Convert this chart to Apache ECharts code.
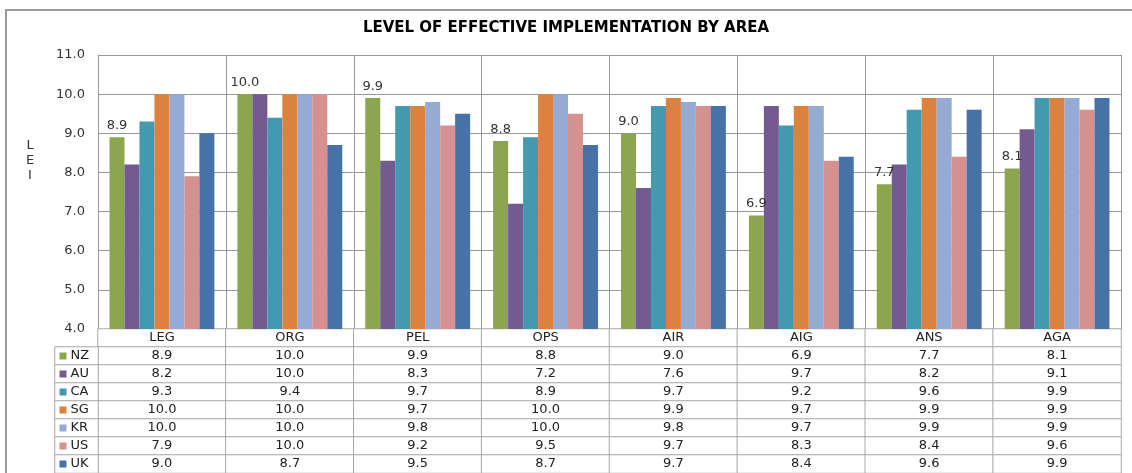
<!DOCTYPE html>
<html>
<head>
<meta charset="utf-8">
<script src="https://cdn.jsdelivr.net/npm/echarts@6/dist/echarts.min.js"></script>
<style>
html,body{margin:0;padding:0;background:#fff;}
#chart{width:1132px;height:473px;}
</style>
</head>
<body>
<div id="chart"></div>
<script>
const categories = ['LEG','ORG','PEL','OPS','AIR','AIG','ANS','AGA'];
const countries = ['NZ','AU','CA','SG','KR','US','UK'];
const nz = [8.9, 10.0, 9.9, 8.8, 9.0, 6.9, 7.7, 8.1];
const au = [8.2, 10.0, 8.3, 7.2, 7.6, 9.7, 8.2, 9.1];
const ca = [9.3, 9.4, 9.7, 8.9, 9.7, 9.2, 9.6, 9.9];
const sg = [10.0, 10.0, 9.7, 10.0, 9.9, 9.7, 9.9, 9.9];
const kr = [10.0, 10.0, 9.8, 10.0, 9.8, 9.7, 9.9, 9.9];
const us = [7.9, 10.0, 9.2, 9.5, 9.7, 8.3, 8.4, 9.6];
const uk = [9.0, 8.7, 9.5, 8.7, 9.7, 8.4, 9.6, 9.9];
const seriesValues = [nz, au, ca, sg, kr, us, uk];
const colors = ['#8BA64E','#735A91','#4299B0','#DC823F','#95ABD3','#D49190','#4672A8'];
const yMin = 4, yMax = 11, yInterval = 1;
const titleText = 'LEVEL OF EFFECTIVE IMPLEMENTATION BY AREA';
const yName = 'L\nE\nI';

const FONT = 'DejaVu Sans';
const FS = 13;
const chart = echarts.init(document.getElementById('chart'), null, {renderer: 'canvas'});

const barSeries = countries.map((c, i) => ({
  name: c,
  type: 'bar',
  xAxisIndex: 0, yAxisIndex: 0,
  data: seriesValues[i],
  barGap: '0%',
  barCategoryGap: '18%',
  itemStyle: {color: colors[i]},
  emphasis: {disabled: true},
  label: i === 0 ? {
    show: true, position: 'top', distance: 5,
    color: '#333', fontFamily: FONT, fontSize: FS,
    formatter: p => p.value.toFixed(1)
  } : {show: false}
}));

const tableData = [];
categories.forEach((cat, ci) => {
  tableData.push([ci, 0, 0]);
  seriesValues.forEach((arr, si) => tableData.push([ci, si + 1, arr[ci]]));
});
const legendCells = countries.map((c, i) => [0, i, 0]);

const rich = {t: {fontFamily: FONT, fontSize: FS, color: '#222', padding: [0,0,0,4]}};
colors.forEach((col, i) => { rich['s' + i] = {width: 7, height: 7, backgroundColor: col}; });

chart.setOption({
  animation: false,
  backgroundColor: '#fff',
  title: {
    text: titleText, left: 'center', top: 16,
    textStyle: {fontFamily: FONT, fontSize: 15, fontWeight: 'bold', color: '#000'}
  },
  graphic: [{
    type: 'rect', silent: true, z: -1,
    shape: {x: 6, y: 10, width: 1200, height: 600},
    style: {fill: 'none', stroke: '#9a9a9a', lineWidth: 2}
  }, {
    type: 'text', silent: true,
    x: 30, y: 138,
    style: {text: yName, fontFamily: FONT, fontSize: FS, fill: '#333', align: 'center', verticalAlign: 'top', lineHeight: 15}
  }],
  visualMap: {show: false, seriesIndex: [7, 8], min: 0, max: 100, inRange: {color: ['#ffffff', '#ffffff']}},
  grid: [
    {left: 98, right: 11, top: 55, bottom: 144},
    {left: 98, right: 11, top: 329, bottom: 0},
    {left: 55, width: 43, top: 347, bottom: 0}
  ],
  xAxis: [
    {type: 'category', gridIndex: 0, data: categories, boundaryGap: true,
     axisLabel: {show: false}, axisTick: {show: false},
     axisLine: {show: true, lineStyle: {color: '#999'}},
     splitLine: {show: true, lineStyle: {color: '#999', width: 1}}},
    {type: 'category', gridIndex: 1, data: categories, show: false},
    {type: 'category', gridIndex: 2, data: ['key'], show: false}
  ],
  yAxis: [
    {type: 'value', gridIndex: 0, min: yMin, max: yMax, interval: yInterval,
     axisLine: {show: true, lineStyle: {color: '#999'}},
     axisTick: {show: false},
     axisLabel: {margin: 13, color: '#333', fontFamily: FONT, fontSize: FS, formatter: v => v.toFixed(1)},
     splitLine: {show: true, lineStyle: {color: '#999', width: 1}}},
    {type: 'category', gridIndex: 1, data: [''].concat(countries), inverse: true, show: false},
    {type: 'category', gridIndex: 2, data: countries, inverse: true, show: false}
  ],
  series: barSeries.concat([
    {
      type: 'heatmap', xAxisIndex: 1, yAxisIndex: 1, data: tableData,
      itemStyle: {color: '#fff', borderColor: '#a8a8a8', borderWidth: 1},
      emphasis: {disabled: true},
      label: {show: true, color: '#222', fontFamily: FONT, fontSize: FS,
        formatter: p => p.value[1] === 0 ? categories[p.value[0]] : p.value[2].toFixed(1)}
    },
    {
      type: 'heatmap', xAxisIndex: 2, yAxisIndex: 2, data: legendCells,
      itemStyle: {color: '#fff', borderColor: '#a8a8a8', borderWidth: 1},
      emphasis: {disabled: true},
      label: {show: true, align: 'left', offset: [-17, 0], rich: rich,
        formatter: p => '{s' + p.value[1] + '|}{t|' + countries[p.value[1]] + '}'}
    }
  ])
});
</script>
</body>
</html>
